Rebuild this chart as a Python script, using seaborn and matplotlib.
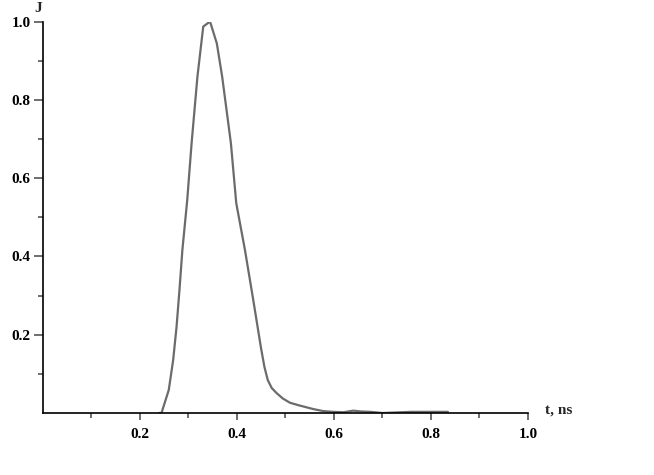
"""
Pulse shape J(t): normalised signal against time in ns.
Single grey curve, left/bottom axes only, bold serif labels.
"""
import matplotlib
matplotlib.use("Agg")
import matplotlib.pyplot as plt
from matplotlib.ticker import FixedLocator
import pandas as pd
import seaborn as sns

# values
t_ns = [0.240, 0.245, 0.260, 0.269, 0.276, 0.282, 0.288, 0.298, 0.307, 0.319,
        0.331, 0.345, 0.359, 0.370, 0.388, 0.399, 0.417, 0.434, 0.450, 0.457,
        0.464, 0.472, 0.482, 0.495, 0.510, 0.530, 0.558, 0.578, 0.598, 0.620,
        0.640, 0.655, 0.675, 0.700, 0.760, 0.805, 0.815, 0.835]
j_vals = [0.000, 0.000, 0.059, 0.135, 0.220, 0.314, 0.416, 0.544, 0.689, 0.859,
          0.987, 1.000, 0.944, 0.859, 0.689, 0.536, 0.416, 0.289, 0.166, 0.118,
          0.084, 0.064, 0.051, 0.037, 0.026, 0.019, 0.010, 0.005, 0.003, 0.002,
          0.006, 0.004, 0.003, 0.000, 0.003, 0.003, 0.003, 0.003]

major_ticks = [0.2, 0.4, 0.6, 0.8, 1.0]
minor_ticks = [0.1, 0.3, 0.5, 0.7, 0.9]
tick_labels = ["0.2", "0.4", "0.6", "0.8", "1.0"]

sns.set_theme(style="ticks")
plt.rcParams['font.family'] = ['Liberation Serif', 'DejaVu Serif']
plt.rcParams['font.weight'] = 'bold'
plt.rcParams['axes.edgecolor'] = 'black'
plt.rcParams['axes.linewidth'] = 1.2

df = pd.DataFrame({"t": t_ns, "J": j_vals})

fig = plt.figure(figsize=(6.54, 4.75), dpi=100)
ax = fig.add_axes([0.0651, 0.1305, 0.7422, 0.8242])
sns.lineplot(data=df, x="t", y="J", color="#6b6b6b", linewidth=1.6,
             ax=ax, zorder=1, sort=False)

ax.set_xlim(0, 1.0)
ax.set_ylim(0, 1.0)
sns.despine(ax=ax)
for sp in ax.spines.values():
    sp.set_zorder(3)

ax.set_xticks(major_ticks)
ax.set_xticklabels(tick_labels)
ax.set_yticks(major_ticks)
ax.set_yticklabels(tick_labels)
ax.xaxis.set_minor_locator(FixedLocator(minor_ticks))
ax.yaxis.set_minor_locator(FixedLocator(minor_ticks))

ax.tick_params(axis='x', which='major', length=5, width=1.2, color='#555555',
               pad=5.5, labelsize=11, labelcolor='black')
ax.tick_params(axis='y', which='major', length=6.5, width=1.2, color='#555555',
               pad=2, labelsize=11, labelcolor='black')
ax.tick_params(which='minor', length=3.5, width=1.2, color='#555555')

ax.set_xlabel("")
ax.set_ylabel("")

fig.text(38 / 654, 1 - 8 / 475, "J", ha='center', va='center',
         fontsize=11, fontweight='bold')
fig.text(545 / 654, 1 - 410 / 475, "t, ns", ha='left', va='center',
         fontsize=11, fontweight='bold')

fig.savefig("out.png", dpi=100)
